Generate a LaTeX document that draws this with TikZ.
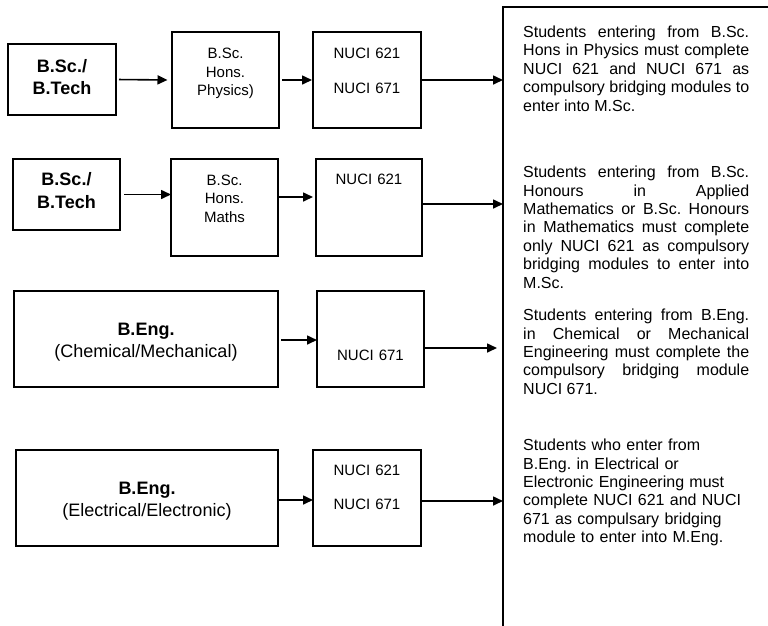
\documentclass[tikz,border=0pt]{standalone}
\usepackage{fontspec}
\setmainfont{Liberation Sans}
\usetikzlibrary{arrows.meta}
\frenchspacing
\tolerance=10000
\hyphenpenalty=10000
\hbadness=10000
\begin{document}
\begin{tikzpicture}[x=1pt,y=-1pt,
  box/.style={draw, line width=1.8pt, inner sep=0pt, outer sep=0pt},
  arr/.style={-{Triangle[length=10pt,width=9pt]}, line width=1.6pt},
  lbl/.style={inner sep=0pt, anchor=base, align=center, text width=#1},
  lbl/.default=100pt,
  sm/.style={font=\fontsize{15}{18.4}\selectfont},
  lg/.style={font=\fontsize{18}{22}\selectfont},
  para/.style={inner sep=0pt, anchor=base west, text width=226pt, font=\fontsize{16}{18.4}\selectfont}]
\useasboundingbox (0,0) rectangle (768,625);

% big box on the right
\node[box, anchor=north west, minimum width=400pt, minimum height=700pt] (big) at (503,7) {};

% Row 1
\node[box, minimum width=108pt, minimum height=71pt] (a1) at (62,79.5) {};
\node[box, minimum width=107pt, minimum height=96pt] (b1) at (225.5,80) {};
\node[box, minimum width=108pt, minimum height=96pt] (c1) at (367,80) {};
\node[lbl, lg] (a1t) at ([yshift=-28.7pt]a1.north) {\bfseries B.Sc./\\B.Tech};
\node[lbl, sm] (b1t) at ([yshift=-26.7pt]b1.north) {B.Sc.\\Hons.\\Physics)};
\node[lbl, sm] (c1t) at ([yshift=-26.4pt]c1.north) {NUCI 621\\[16.6pt]NUCI 671};
\draw[arr, shorten <=3pt, shorten >=4.5pt] (a1.east) -- (b1.west);
\draw[arr, shorten <=3pt, shorten >=1pt] (b1.east) -- (c1.west);
\draw[arr] (c1.east) -- (c1.east -| big.west);

% Row 2
\node[box, minimum width=107pt, minimum height=71pt] (a2) at (66.5,194.5) {};
\node[box, minimum width=107pt, minimum height=97pt] (b2) at (224.5,207.5) {};
\node[box, minimum width=106pt, minimum height=97pt] (c2) at (369,207.5) {};
\node[lbl, lg] (a2t) at ([yshift=-26.7pt]a2.north) {\bfseries B.Sc./\\[1pt]B.Tech};
\node[lbl, sm] (b2t) at ([yshift=-26.4pt]b2.north) {B.Sc.\\Hons.\\Maths};
\node[lbl, sm] (c2t) at ([yshift=-25.4pt]c2.north) {NUCI 621};
\draw[arr, shorten <=4pt] (a2.east) -- (a2.east -| b2.west);
\draw[arr, shorten >=3pt] ([yshift=10.5pt]b2.east) coordinate (b2o) -- (b2o -| c2.west);
\draw[arr] ([yshift=3.5pt]c2.east) coordinate (c2o) -- (c2o -| big.west);

% Row 3
\node[box, minimum width=264pt, minimum height=96pt] (a3) at (146,339) {};
\node[box, minimum width=107pt, minimum height=96pt] (b3) at (370.5,339) {};
\node[lbl=250pt, lg] (a3t) at ([yshift=-44.4pt]a3.north) {\textbf{B.Eng.}\\(Chemical/Mechanical)};
\node[lbl, sm] (b3t) at ([yshift=-69.4pt]b3.north) {NUCI 671};
\draw[arr, shorten <=3pt] ([yshift=-1pt]a3.east) coordinate (a3o) -- (a3o -| b3.west);
\draw[arr, shorten >=6pt] ([yshift=-9pt]b3.east) coordinate (b3o) -- (b3o -| big.west);

% Row 4
\node[box, minimum width=262pt, minimum height=96pt] (a4) at (147,498) {};
\node[box, minimum width=108pt, minimum height=96pt] (b4) at (367,498) {};
\node[lbl=250pt, lg] (a4t) at ([yshift=-44pt]a4.north) {\textbf{B.Eng.}\\[0.7pt](Electrical/Electronic)};
\node[lbl, sm] (b4t) at ([yshift=-25.4pt]b4.north) {NUCI 621\\[15.6pt]NUCI 671};
\draw[arr] ([yshift=-2pt]a4.east) coordinate (a4o) -- (a4o -| b4.west);
\draw[arr] ([yshift=-3pt]b4.east) coordinate (b4o) -- (b4o -| big.west);

% Paragraphs
\node[para, align=justify] (p1) at (523,37.4) {Students entering from B.Sc.\linebreak Hons in Physics must complete\linebreak NUCI 621 and NUCI 671 as\linebreak compulsory bridging modules to\linebreak enter into M.Sc.};
\node[para, align=justify] (p2) at (523,177.7) {Students entering from B.Sc.\linebreak Honours in Applied\linebreak Mathematics or B.Sc. Honours\linebreak in Mathematics must complete\linebreak only NUCI 621 as compulsory\linebreak bridging modules to enter into\linebreak M.Sc.};
\node[para, align=justify] (p3) at (523,320.7) {Students entering from B.Eng.\linebreak in Chemical or Mechanical\linebreak Engineering must complete the\linebreak compulsory bridging module\linebreak NUCI 671.};
\node[para, align=left] (p4) at (523,450.7) {Students who enter from\\B.Eng. in Electrical or\\Electronic Engineering must\\complete NUCI 621 and NUCI\\671 as compulsary bridging\\module to enter into M.Eng.};
\end{tikzpicture}
\end{document}
